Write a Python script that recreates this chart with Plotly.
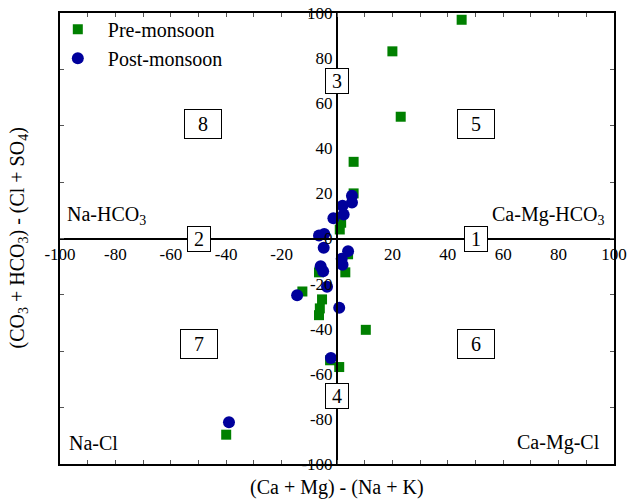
import plotly.graph_objects as go

# Pre-monsoon samples
pre_x = [45, 20, 23, 6, 6, 1, 1.5, 3, 4, -6.5, -12.5, -5.4, -6.2, -6.5, 10.4, 0.8, -2.5, -40]
pre_y = [97, 83, 54, 34, 20, 4, 7, -15, -7, -15, -23.5, -27, -31, -34, -40.5, -57, -54, -87]

# Post-monsoon samples
post_x = [5.4, 5.4, 2, 2.4, -1.3, -4.6, -6.5, -4.8, 4, 1.7, 2, -5.9, -5, -3.6, -14.4, 0.8, -2.2, -39]
post_y = [19, 16, 14.5, 10.6, 9, 2, 1.3, -4.1, -5.6, -9, -11.6, -12.3, -14.5, -21.4, -25.2, -30.7, -53, -81.5]

x_ticks = [-100, -80, -60, -40, -20, 20, 40, 60, 80, 100]
x_tick_text = ["-100", "-80", "-60", "-40", "-20", "20", "40", "60", "80", "100"]
y_ticks = [-100, -80, -60, -40, -20, 0, 20, 40, 60, 80, 100]
y_tick_text = ["-100", "-80", "-60", "-40", "-20", "0", "20", "40", "60", "80", "100"]

region_ids = ["1", "2", "3", "4", "5", "6", "7", "8"]
region_x = [50, -50, 0, 0, 50, 50, -50, -48.5]
region_y = [0, 0, 70, -70, 51, -47, -47, 51]

FONT = "Liberation Serif"


def f(size):
    return dict(family=FONT, size=size, color="black")


fig = go.Figure()
fig.add_trace(go.Scatter(x=pre_x, y=pre_y, mode="markers", name="Pre-monsoon",
                         marker=dict(symbol="square", size=10, color="#008000")))
fig.add_trace(go.Scatter(x=post_x, y=post_y, mode="markers", name="Post-monsoon",
                         marker=dict(symbol="circle", size=12, color="#00009c")))
# frame axes (border ticks only)
fig.add_trace(go.Scatter(x=[], y=[], xaxis="x2", yaxis="y2", showlegend=False, hoverinfo="skip"))

fig.update_layout(
    width=629, height=500,
    margin=dict(l=60, r=15, t=13, b=36, autoexpand=False),
    paper_bgcolor="white", plot_bgcolor="white",
    font=f(17),
    xaxis=dict(range=[-100, 100], anchor="free", position=0.5, showline=True,
               linecolor="black", linewidth=2, ticks="", tickvals=x_ticks, ticktext=x_tick_text,
               showgrid=False, zeroline=False, tickfont=f(17), automargin=False),
    yaxis=dict(range=[-100, 100], anchor="free", position=0.5, showline=True,
               linecolor="black", linewidth=2, ticks="", tickvals=y_ticks, ticktext=y_tick_text,
               showgrid=False, zeroline=False, tickfont=f(17), automargin=False),
    xaxis2=dict(range=[-100, 100], overlaying="x", anchor="y2", side="bottom",
                showline=True, mirror="ticks", linecolor="black", linewidth=2,
                ticks="inside", dtick=10, ticklen=4, tickcolor="#555", showticklabels=False,
                showgrid=False, zeroline=False, automargin=False),
    yaxis2=dict(range=[-100, 100], overlaying="y", anchor="x2", side="left",
                showline=True, mirror="ticks", linecolor="black", linewidth=2,
                ticks="inside", dtick=25, ticklen=4, tickcolor="#555", showticklabels=False,
                showgrid=False, zeroline=False, automargin=False),
    legend=dict(x=-0.022, y=1.007, xanchor="left", yanchor="top", itemwidth=50,
                bgcolor="rgba(0,0,0,0)", font=f(20), tracegroupgap=0),
    showlegend=True,
)

for lab, rx, ry in zip(region_ids, region_x, region_y):
    wide = lab in ("5", "6", "7", "8")
    fig.add_annotation(x=rx, y=ry, text=lab, showarrow=False,
                       font=f(20), bgcolor="white",
                       bordercolor="black", borderwidth=1,
                       width=34 if wide else 20, height=26 if wide else 22, borderpad=1)

fig.add_annotation(x=-98.3, y=10, text="Na-HCO<sub>3</sub>", showarrow=False,
                   xanchor="left", yanchor="middle", font=f(20))
fig.add_annotation(x=97.6, y=10, text="Ca-Mg-HCO<sub>3</sub>", showarrow=False,
                   xanchor="right", yanchor="middle", font=f(20))
fig.add_annotation(x=-97.5, y=-90.5, text="Na-Cl", showarrow=False,
                   xanchor="left", yanchor="middle", font=f(20))
fig.add_annotation(x=95.5, y=-90.5, text="Ca-Mg-Cl", showarrow=False,
                   xanchor="right", yanchor="middle", font=f(20))

fig.add_annotation(xref="paper", yref="paper", x=0.5, y=0, yshift=-23,
                   text="(Ca + Mg) - (Na + K)", showarrow=False,
                   xanchor="center", yanchor="middle", font=f(20))
fig.add_annotation(xref="paper", yref="paper", x=0, y=0.5, xshift=-42,
                   text="(CO<sub>3</sub> + HCO<sub>3</sub>) - (Cl + SO<sub>4</sub>)",
                   showarrow=False, textangle=-90,
                   xanchor="center", yanchor="middle", font=f(20))

fig.write_html("out.html", config={"displayModeBar": False},
               post_script="document.body.style.margin='0';document.body.style.overflow='hidden';")
